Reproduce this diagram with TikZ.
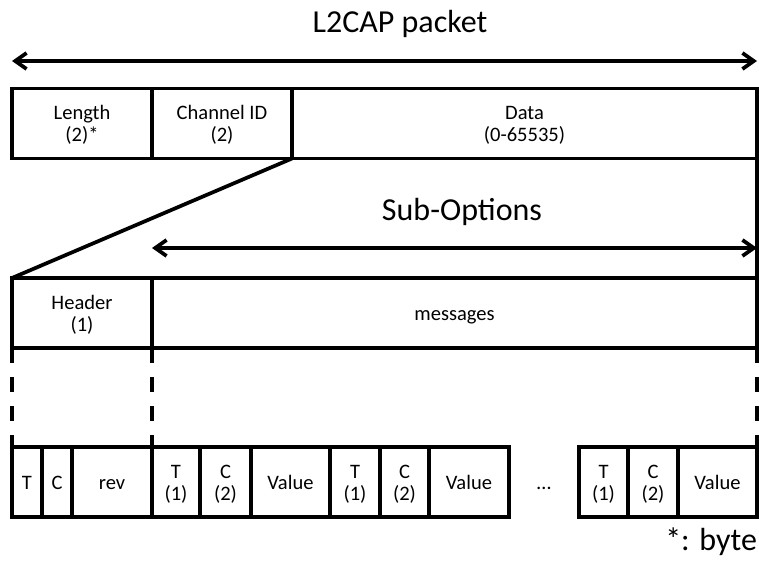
\documentclass[tikz,border=0pt]{standalone}
\usepackage{fontspec}
\setmainfont{Carlito}
\usetikzlibrary{arrows.meta}
\newcommand\cst{\rule[-2.9pt]{0pt}{16.3pt}}
\begin{document}
\begin{tikzpicture}
  [x=0.75pt,y=-0.75pt,every node/.style={inner sep=0,outer sep=0},
   cell/.style={draw=black,line width=2.8pt,minimum height=52.5pt,align=center,
     font=\fontsize{15.4}{16.5}\selectfont},
   big/.style={font=\fontsize{24}{28}\selectfont},
   span/.style={line width=2.8pt,
     {Straight Barb[length=8.5pt,width=12pt]}-{Straight Barb[length=8.5pt,width=12pt]}},
   cut/.style={line width=2.8pt,dash pattern=on 11.25pt off 10.5pt}]
  \useasboundingbox (0,0) rectangle (759,566);

  \node[big,anchor=base] (ttl) at (400,33) {L2CAP packet};
  \coordinate (a1) at (12,61);
  \coordinate (a2) at (757,61);
  \draw[span] (a1) -- (a2);

  \node[cell,minimum width=105pt] (p1) at (82,123.5) {\cst Length\\\cst (2)*};
  \node[cell,minimum width=105pt] (p2) at (222,123.5) {\cst Channel ID\\\cst (2)};
  \node[cell,minimum width=348.75pt] (p3) at (524.5,123.5) {\cst Data\\\cst (0-65535)};

  \node[big,anchor=base] (sub) at (462,221) {Sub-Options};
  \coordinate (s1) at (152,248);
  \coordinate (s2) at (757,248);
  \draw[span] (s1) -- (s2);

  \node[cell,minimum width=105pt] (h1) at (82,313) {\cst Header\\\cst (1)};
  \node[cell,minimum width=453.75pt] (h2) at (454.5,313) {\cst messages};

  \draw[line width=2.8pt,line join=round] (p2.south east) -- (h1.north west);
  \draw[line width=2.8pt] (p3.south east) -- (h2.north east);

  \foreach \x/\w/\t [count=\i] in {27/30/\cst T, 57/30/\cst C, 112/80/\cst rev,
      176/48/{\cst T\\\cst (1)}, 225.5/51/{\cst C\\\cst (2)}, 290.5/79/\cst Value,
      355/50/{\cst T\\\cst (1)}, 404.5/49/{\cst C\\\cst (2)}, 469/80/\cst Value,
      603.5/49/{\cst T\\\cst (1)}, 653/50/{\cst C\\\cst (2)}, 717.5/79/\cst Value}
    \node[cell,minimum width=\w*0.75pt] (b\i) at (\x,482) {\t};
  \node[font=\fontsize{15.4}{16.5}\selectfont,anchor=base] (dots) at (544,489) {…};

  \draw[cut] (h1.south west) -- (b1.north west);
  \draw[cut] (h1.south east) -- (b4.north west);
  \draw[cut] (h2.south east) -- (b12.north east);

  \node[big,anchor=base east] (note) at (757,550) {*: byte};
\end{tikzpicture}
\end{document}
